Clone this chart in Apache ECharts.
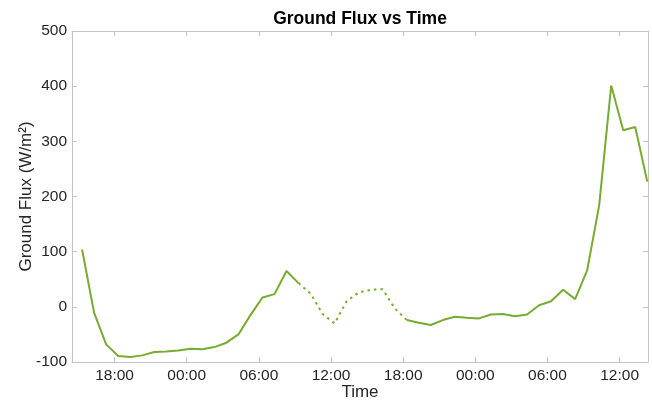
<!DOCTYPE html>
<html>
<head>
<meta charset="utf-8">
<script src="https://cdn.jsdelivr.net/npm/echarts@6/dist/echarts.min.js"></script>
<style>
html,body{margin:0;padding:0;background:#fff;}
#c{width:652px;height:400px;}
</style>
</head>
<body>
<div id="c"></div>
<script>
// Time in hours from 00:00 of day 1
const hours = [15.3,16.3,17.3,18.3,19.3,20.3,21.3,22.3,23.3,24.3,25.3,26.3,27.3,28.3,29.3,30.3,31.3,32.3,33.3,34.3,35.3,36.3,37.3,38.3,39.3,40.3,41.3,42.3,43.3,44.3,45.3,46.3,47.3,48.3,49.3,50.3,51.3,52.3,53.3,54.3,55.3,56.3,57.3,58.3,59.3,60.3,61.3,62.3];
// Measured ground flux (null where the gap is)
const fluxMeasured = [104,-11,-68,-89,-91,-88,-82,-81,-79,-76,-77,-73,-65,-50,-15,17,23,65,43,null,null,null,null,null,null,null,null,-24,-29,-33,-24,-18,-20,-21,-14,-13,-17,-14,3,10,31,14,66,184,401,320,326,227];
// Gap-filled portion (dotted)
const fluxGap = [null,null,null,null,null,null,null,null,null,null,null,null,null,null,null,null,null,null,43,24,-13,-30,10,26,31,32,-3,-24,null,null,null,null,null,null,null,null,null,null,null,null,null,null,null,null,null,null,null,null];
const tickHours = [18,24,30,36,42,48,54,60];
const yTicks = [-100,0,100,200,300,400,500];

const pad = n => (n < 10 ? '0' : '') + n;
const fmt = v => pad(((Math.round(v) % 24) + 24) % 24) + ':00';

const green = '#77AC30';
const axisCol = '#c4c4c4';
const txt = '#262626';
const font = '"Liberation Sans", Arial, Helvetica, sans-serif';

const solidData = hours.map((h, i) => [h, fluxMeasured[i]]);
const gapData = hours.map((h, i) => [h, fluxGap[i]]);

const chart = echarts.init(document.getElementById('c'));
chart.setOption({
  animation: false,
  backgroundColor: '#fff',
  title: {
    text: 'Ground Flux vs Time',
    left: 360,
    textAlign: 'center',
    top: 10,
    padding: 0,
    textStyle: {fontFamily: font, fontSize: 17.5, fontWeight: 'bold', color: '#000'}
  },
  grid: {left: 72, right: 4, top: 31, bottom: 38, show: false, containLabel: false, outerBoundsMode: 'none'},
  xAxis: [{
    type: 'value',
    min: 14.46, max: 62.36,
    position: 'bottom',
    name: 'Time',
    nameLocation: 'middle',
    nameGap: 22,
    nameMoveOverlap: false,
    nameTextStyle: {fontFamily: font, fontSize: 17, color: txt},
    axisLine: {show: true, onZero: false, lineStyle: {color: axisCol, width: 1}},
    axisTick: {show: true, inside: true, length: 5, customValues: tickHours, lineStyle: {color: axisCol}},
    axisLabel: {show: true, customValues: tickHours, formatter: fmt, margin: 6, fontFamily: font, fontSize: 15.5, color: txt},
    splitLine: {show: false}
  }, {
    type: 'value',
    min: 14.46, max: 62.36,
    position: 'top',
    axisLine: {show: true, onZero: false, lineStyle: {color: axisCol, width: 1}},
    axisTick: {show: true, inside: true, length: 5, customValues: tickHours, lineStyle: {color: axisCol}},
    axisLabel: {show: false},
    splitLine: {show: false}
  }],
  yAxis: [{
    type: 'value',
    min: -100, max: 500, interval: 100,
    position: 'left',
    name: 'Ground Flux (W/m²)',
    nameLocation: 'middle',
    nameGap: 37,
    nameMoveOverlap: false,
    nameTextStyle: {fontFamily: font, fontSize: 17, color: txt},
    axisLine: {show: true, onZero: false, lineStyle: {color: axisCol, width: 1}},
    axisTick: {show: true, inside: true, length: 5, lineStyle: {color: axisCol}},
    axisLabel: {show: true, margin: 5, fontFamily: font, fontSize: 15.5, color: txt},
    splitLine: {show: false}
  }, {
    type: 'value',
    min: -100, max: 500, interval: 100,
    position: 'right',
    axisLine: {show: true, onZero: false, lineStyle: {color: axisCol, width: 1}},
    axisTick: {show: true, inside: true, length: 5, lineStyle: {color: axisCol}},
    axisLabel: {show: false},
    splitLine: {show: false}
  }],
  series: [{
    type: 'line',
    data: solidData,
    xAxisIndex: 0, yAxisIndex: 0,
    showSymbol: false,
    connectNulls: false,
    lineStyle: {color: green, width: 2},
    itemStyle: {color: green}
  }, {
    type: 'line',
    data: gapData,
    xAxisIndex: 0, yAxisIndex: 0,
    showSymbol: false,
    connectNulls: false,
    lineStyle: {color: green, width: 2, type: [2.5, 4]},
    itemStyle: {color: green}
  }]
});
</script>
</body>
</html>
